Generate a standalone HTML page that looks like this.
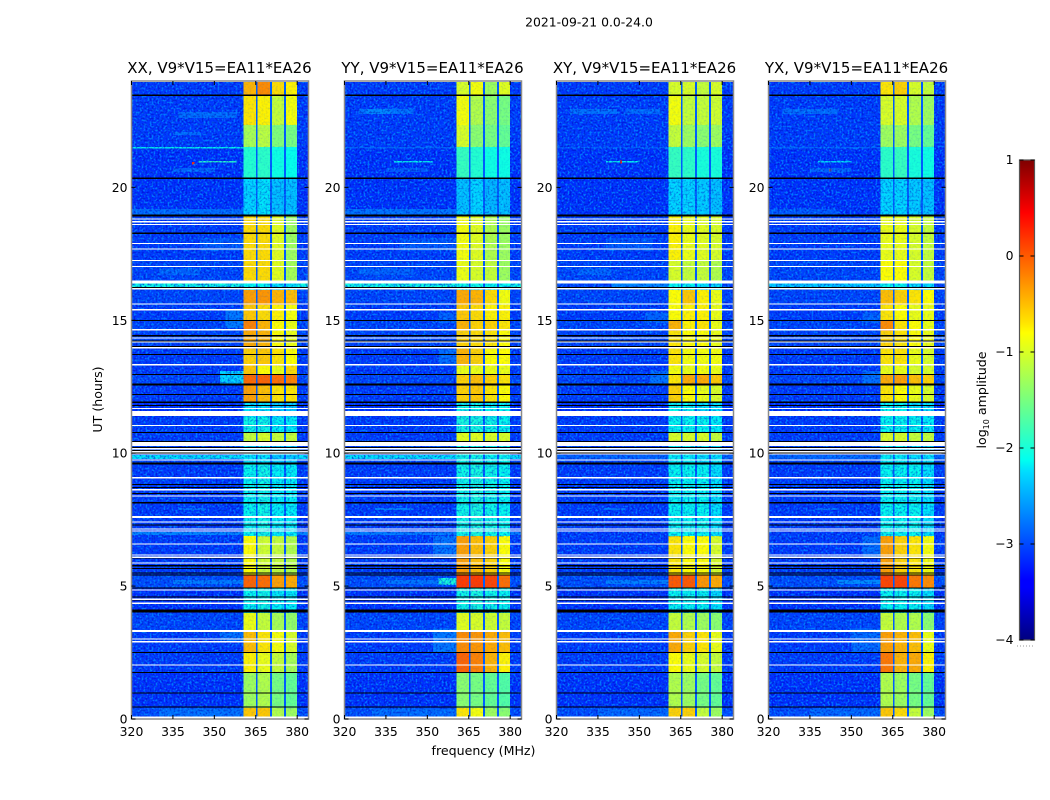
<!DOCTYPE html>
<html lang="en">
<head>
<meta charset="utf-8">
<title>2021-09-21 0.0-24.0</title>
<style>
html,body{margin:0;padding:0;background:#fff;width:1050px;height:800px;overflow:hidden}
svg{display:block}
text{font-family:"DejaVu Sans","Liberation Sans",sans-serif;fill:#000}
.tick{font-size:12.4px}
.ttl{font-size:15px}
.lab{font-size:12.6px}
</style>
</head>
<body>
<svg id="fig" width="1050" height="800" viewBox="0 0 1050 800" xmlns="http://www.w3.org/2000/svg">
<defs>
<filter id="speckLight" x="0" y="0" width="100%" height="100%" color-interpolation-filters="sRGB">
<feTurbulence type="fractalNoise" baseFrequency="0.5" numOctaves="1" seed="3"/>
<feColorMatrix type="matrix" values="0 0 0 0 0  0 0 0 0 0.55  0 0 0 0 1  4.5 0 0 0 -2.1"/>
</filter>
<filter id="speckDark" x="0" y="0" width="100%" height="100%" color-interpolation-filters="sRGB">
<feTurbulence type="fractalNoise" baseFrequency="0.5" numOctaves="1" seed="11"/>
<feColorMatrix type="matrix" values="0 0 0 0 0  0 0 0 0 0  0 0 0 0 0.7  4.5 0 0 0 -2.1"/>
</filter>
<linearGradient id="cbarGradient" x1="0" y1="1" x2="0" y2="0"></linearGradient>
</defs>
<text x="589" y="26.5" text-anchor="middle" style="font-size:12.4px">2021-09-21 0.0-24.0</text>
<text x="483.5" y="755" text-anchor="middle" class="lab">frequency (MHz)</text>
<text transform="translate(102 399.5) rotate(-90)" text-anchor="middle" class="lab">UT (hours)</text>
<g id="panels"></g>
<g id="cbar"></g>
<text transform="translate(986 400) rotate(-90)" text-anchor="middle" class="lab">log<tspan dy="3" style="font-size:8px">10</tspan><tspan dy="-3"> amplitude</tspan></text>
</svg>
<script>
const panelTitles = ["XX, V9*V15=EA11*EA26", "YY, V9*V15=EA11*EA26", "XY, V9*V15=EA11*EA26", "YX, V9*V15=EA11*EA26"];
const freqTicks = [320, 335, 350, 365, 380];
const hourTicks = [0, 5, 10, 15, 20];
const colorbarTicks = [-4, -3, -2, -1, 0, 1];

// Hour at the top of each time segment, plus the closing 0
const segmentTopHours = [24, 23.44, 22.35, 21.52, 20.32, 18.92, 17.27, 16.48, 16.14, 15.58, 15.01, 14.60, 13.92, 13.28, 12.94, 12.57, 11.89, 11.36, 10.76, 10.42, 9.59, 6.88, 5.42, 4.93, 3.99, 3.27, 2.48, 1.73, 0.41, 0];
// Background log10 amplitude per segment
const backgroundLevels = [-3.1, -3.1, -3.1, -3.15, -3.15, -3.1, -3.05, -3.05, -3.05, -3.1, -3.05, -3.05, -3.1, -3.1, -3.05, -3.1, -3.15, -3.1, -3.1, -3.05, -3.1, -3.1, -3, -3.15, -3.05, -3.1, -3.1, -3.15, -3];
// Log10 amplitude of the four sub-bands, per segment
const bandLevelsXX = [[-.45,-.25,-.65,-.75],[-.7,-.75,-1.1,-.85],[-1.25,-1.15,-1.45,-1.5],[-1.95,-1.9,-2.05,-2.1],[-2.25,-2.2,-2.35,-2.35],[-.65,-.65,-.95,-1.3],[-.65,-.65,-.95,-1.25],[-2.1,-2.1,-2.2,-2.2],[-.35,-.3,-.45,-.5],[-.55,-.65,-.75,-.85],[-.2,-.45,-.8,-.9],[-.4,-.45,-.8,-.9],[-.6,-.55,-.7,-.8],[-.55,-.8,-.9,-.65],[-.08,-.05,-.1,-.2],[-.35,-.5,-.7,-.7],[-2.2,-2.2,-2.3,-2.3],[-2.05,-2.05,-2.15,-2.15],[-1.1,-1,-1.1,-1.1],[-2.2,-2.2,-2.3,-2.3],[-2.1,-2.05,-2.15,-2.15],[-.8,-1.05,-1.1,-1.2],[-.05,-.1,-.35,-.4],[-2.1,-2.05,-2.15,-2.15],[-.9,-1.1,-1.25,-1.35],[-.5,-.7,-.85,-1],[-.75,-.9,-1.1,-1.25],[-1.3,-1.2,-1.5,-1.6],[-.55,-.55,-1.2,-1.3]];
const bandLevelsYY = [[-1,-.85,-1.3,-.95],[-.85,-1.2,-1.4,-1.5],[-1,-1.4,-1.5,-1.6],[-1.85,-1.95,-2.05,-2.05],[-2.35,-2.25,-2.4,-2.35],[-.85,-.95,-1.2,-1.3],[-.9,-1,-1.1,-1.3],[-2.05,-2.05,-2.1,-2.1],[-.4,-.45,-.65,-.85],[-.55,-.65,-.75,-.75],[-.45,-.6,-.6,-.7],[-.6,-.65,-.7,-.8],[-.45,-.6,-.8,-.8],[-.9,-.9,-.9,-.9],[-.6,-.5,-.6,-.7],[-.6,-.55,-.7,-.8],[-2.05,-2.05,-2.1,-2.1],[-2.01,-2.01,-2.05,-2.1],[-.95,-.95,-1,-1],[-2.05,-2.05,-2.1,-2.1],[-2.05,-2.01,-2.05,-2.1],[-.35,-.5,-.6,-.8],[.15,.15,.1,-.1],[-2.05,-2.01,-2.05,-2.1],[-.95,-1,-1.05,-1.1],[-.25,-.3,-.4,-.5],[-.05,-.2,-.45,-.75],[-1.4,-1.5,-1.6,-1.7],[-.7,-.85,-1.3,-1.4]];
const bandLevelsXY = [[-1,-1,-1.1,-1],[-.85,-1.1,-1.1,-1.05],[-1.1,-1.3,-1.4,-1.3],[-1.85,-1.9,-2,-2],[-2.25,-2.25,-2.3,-2.35],[-.75,-.9,-.95,-1],[-1,-1.1,-1.1,-1.2],[-2.1,-2.1,-2.2,-2.2],[-.8,-.55,-.75,-.9],[-.8,-.75,-.75,-.9],[-.45,-.75,-.7,-.9],[-.7,-.8,-.8,-.9],[-.7,-.85,-.85,-.85],[-.85,-.9,-.85,-.9],[-.7,-.4,-.4,-.55],[-.6,-.8,-.9,-1],[-2.1,-2.1,-2.2,-2.2],[-2.1,-2.1,-2.1,-2.15],[-1,-1,-1,-1.1],[-2.15,-2.15,-2.2,-2.2],[-2.1,-2.1,-2.1,-2.2],[-.7,-.8,-.8,-1],[0,0,-.3,-.4],[-2.1,-2.1,-2.1,-2.2],[-1.1,-1.2,-1.3,-1.4],[-.4,-.6,-.7,-.9],[-.8,-.9,-1,-1.1],[-1.2,-1.3,-1.5,-1.6],[-.6,-.6,-1.1,-1.3]];
const bandLevelsYX = [[-.7,-.6,-1,-1.1],[-1,-1,-1.2,-1.3],[-1.3,-1.3,-1.5,-1.6],[-1.9,-1.85,-2,-2.05],[-2.25,-2.25,-2.3,-2.35],[-.9,-.9,-1,-1.1],[-.8,-.8,-1,-1.1],[-2.1,-2.1,-2.2,-2.2],[-.5,-.6,-.7,-.8],[-.7,-.8,-.9,-.9],[-.25,-.7,-.8,-.9],[-.6,-.7,-.8,-.9],[-.7,-.7,-.9,-1],[-.9,-.9,-1,-1],[-.4,-.35,-.5,-.6],[-.7,-.8,-.9,-1],[-2.1,-2.1,-2.2,-2.2],[-2.1,-2.1,-2.1,-2.15],[-1,-1,-1.1,-1.1],[-2.15,-2.15,-2.2,-2.2],[-2.1,-2.1,-2.1,-2.2],[-.35,-.6,-.7,-.85],[.1,.1,-.15,-.25],[-2.1,-2.1,-2.1,-2.2],[-1.1,-1.2,-1.2,-1.4],[-.35,-.45,-.5,-.9],[-.15,-.45,-.4,-.75],[-1.2,-1.3,-1.5,-1.6],[-.55,-.65,-1.1,-1.3]];
const bandLevelsByPanel = [bandLevelsXX, bandLevelsYY, bandLevelsXY, bandLevelsYX];

// Sub-band limits in MHz
const bandStartMHz = [360.5, 365.7, 370.9, 376];
const bandEndMHz = [365, 370.2, 375.3, 380];
const bandGapLevel = -2.9;

// Weak emission and RFI: panel, hour top, hour bottom, MHz start, MHz end, level
const streaks = [
[0,19.19,18.96,320,360.5,-2.55],[1,19.19,18.96,320,360.5,-2.5],[3,19.19,18.96,320,345,-2.75],
[0,16.40,16.25,320,384,-2.05],[1,16.40,16.25,320,384,-2.05],[2,16.40,16.25,340,360.5,-2.4],[3,16.40,16.25,320,360.5,-2.3],
[0,9.93,9.78,320,384,-2.2],[1,9.93,9.78,320,384,-2.2],[2,9.93,9.78,320,384,-2.75],[3,9.93,9.78,320,384,-2.7],
[0,7.04,6.92,320,384,-2.35],[1,7.04,6.92,320,384,-2.45],
[0,22.84,22.61,337,358,-2.6],[1,22.95,22.75,325,345,-2.55],[2,22.95,22.75,325,342,-2.55],[2,22.95,22.75,345,358,-2.65],[3,22.95,22.75,325,345,-2.6],
[1,22.95,22.75,328,337,-2.55],
[0,22.08,21.97,335,345,-2.6],[0,21.52,21.47,320,360.5,-2.1],[1,21.52,21.47,320,360.5,-2.6],[2,21.52,21.47,320,360.5,-2.7],[3,21.52,21.47,320,360.5,-2.6],
[0,20.99,20.94,344,358,-1.9],[1,20.99,20.94,338,352,-2.1],[2,20.99,20.94,338,350,-2.1],[3,20.99,20.94,338,350,-2.2],
[2,21.03,20.90,343,343.8,.2],[3,20.7,20.6,342,342.8,.2],[0,20.95,20.86,342,342.8,.2],
[0,20.73,20.58,335,350,-2.65],[1,20.73,20.58,335,350,-2.75],[3,20.73,20.58,335,350,-2.65],
[0,18.1,17.6,345,360.5,-2.8],[1,18.1,17.6,340,360.5,-2.8],[2,18.1,17.6,338,355,-2.8],[0,16.95,16.7,330,345,-2.75],[1,16.95,16.7,325,345,-2.75],[2,16.95,16.7,328,340,-2.75],
[0,15.4,14.7,354,360.5,-2.5],[1,15.3,14.9,354,360.5,-2.7],[2,15.3,14.9,352,360.5,-2.7],[3,15.3,14.9,354,360.5,-2.7],
[0,13.1,12.6,352,360.5,-2.25],[1,13.9,13.3,354,360.5,-2.6],[2,13.1,12.6,354,360.5,-2.6],[3,13.1,12.6,354,360.5,-2.6],
[0,7.94,7.86,337,347,-2.55],[1,7.94,7.86,331,345,-2.4],[2,7.94,7.86,337,345,-2.55],[3,7.94,7.86,337,345,-2.55],
[1,6.88,6.1,352,360.5,-2.55],[3,6.88,6.1,354,360.5,-2.6],
[0,5.23,5.08,335,360.5,-2.55],[1,5.23,5.08,335,355,-2.6],[1,5.3,5.05,354,360.5,-2.0],[2,5.23,5.08,338,360.5,-2.5],[3,5.23,5.08,345,360.5,-2.35],
[0,3.27,2.9,352,360.5,-2.6],[1,3.4,2.5,352,360.5,-2.5],[3,3.4,2.5,350,360.5,-2.65],[0,0.4,0.1,330,360.5,-2.65],[1,0.4,0.1,330,360.5,-2.7],[2,0.4,0.1,335,360.5,-2.75],[3,0.4,0.1,335,360.5,-2.75]
];
// Flagged rows: centre hour, thickness in hours
const blackRows = [[23.46,.05],[20.34,.06],[18.94,.08],[18.27,.05],[16.23,.05],[14.99,.05],[14.42,.05],[14.22,.05],[14.01,.05],[13.71,.05],[12.96,.05],[12.58,.08],[12.21,.05],[11.91,.05],[11.79,.05],[10.78,.05],[10.44,.05],[10.21,.05],[10.10,.05],[10.01,.05],[9.61,.06],[8.82,.05],[8.71,.05],[8.48,.05],[8.13,.05],[7.30,.05],[6.06,.05],[5.76,.05],[5.66,.05],[5.49,.05],[5.42,.05],[4.93,.05],[4.59,.05],[4.48,.05],[4.06,.12],[2.50,.05],[1.75,.05],[0.98,.05],[0.45,.05]];
const whiteRows = [[23.98,.05],[18.81,.05],[18.70,.05],[18.60,.05],[17.89,.05],[17.68,.05],[17.25,.05],[17.02,.05],[16.44,.1],[16.18,.05],[15.61,.05],[15.39,.05],[14.64,.05],[14.33,.05],[14.18,.05],[13.96,.05],[13.32,.05],[11.68,.05],[11.49,.2],[11.04,.05],[10.35,.15],[10.16,.05],[10.05,.05],[9.97,.05],[9.74,.05],[9.07,.05],[8.62,.05],[8.39,.05],[7.60,.08],[7.41,.05],[7.15,.05],[7.07,.05],[6.58,.05],[6.17,.05],[6.09,.05],[5.87,.05],[4.85,.05],[4.51,.05],[4.36,.05],[3.31,.08],[3.01,.05],[2.90,.05],[2.03,.05],[0.05,.07]];

// Jet colormap stops: position, red, green, blue
const jetStops = [[0,0,0,127],[.11,0,0,255],[.125,0,0,255],[.35,0,220,255],[.375,0,255,240],[.64,255,255,0],[.66,255,230,0],[.89,255,0,0],[.91,232,0,0],[1,127,0,0]];
const levelMin = -4;
const levelMax = 1;

const SVG_NS = "http://www.w3.org/2000/svg";
const panelLefts = [131.5, 344.5, 556.5, 768.5];
const plotWidth = 177, plotTop = 81, plotHeight = 638;
const freqMin = 320, freqMax = 384.1, hourMax = 24;

function mk(tag, attrs, parent) {
  const el = document.createElementNS(SVG_NS, tag);
  for (const k in attrs) el.setAttribute(k, attrs[k]);
  parent.appendChild(el);
  return el;
}
function jet(level) {
  const t = Math.max(0, Math.min(1, (level - levelMin) / (levelMax - levelMin)));
  for (let i = 1; i < jetStops.length; i++) {
    if (t <= jetStops[i][0]) {
      const a = jetStops[i - 1], b = jetStops[i], u = (t - a[0]) / (b[0] - a[0]);
      return "rgb(" + [1, 2, 3].map(c => Math.round(a[c] + (b[c] - a[c]) * u)).join(",") + ")";
    }
  }
  return "rgb(127,0,0)";
}
const yOf = h => plotTop + (hourMax - h) / hourMax * plotHeight;

const panelsGroup = document.getElementById("panels");
panelTitles.forEach((title, p) => {
  const left = panelLefts[p];
  const xOf = f => left + (f - freqMin) / (freqMax - freqMin) * plotWidth;
  const g = mk("g", {}, panelsGroup);
  
  
  const cells = mk("g", {"shape-rendering": "crispEdges"}, g);
  
  
  function cell(f0, f1, h0, h1, level, host, alpha) {
    const r = mk("rect", {x: xOf(f0), y: yOf(h0), width: xOf(f1) - xOf(f0), height: yOf(h1) - yOf(h0), fill: jet(level), "fill-opacity": alpha === undefined ? 1 : alpha}, host || cells);
    
    
  }
  for (let s = 0; s < backgroundLevels.length; s++) {
    cell(freqMin, freqMax, segmentTopHours[s], segmentTopHours[s + 1], backgroundLevels[s]);
  }
  // diffuse emission blends softly into the background
  streaks.filter(v => v[0] === p).forEach(v => cell(v[3], v[4], v[1], v[2], v[5], cells, v[5] < -2.3 ? .55 : 1));
  // background speckle texture sits above the diffuse emission
  const x0 = xOf(bandStartMHz[0]), x1 = xOf(bandEndMHz[3]);
  [[left, x0 - left], [x1, left + plotWidth - x1]].forEach(a => {
    mk("rect", {x: a[0], y: plotTop, width: a[1], height: plotHeight, filter: "url(#speckLight)", opacity: .8}, g);
    mk("rect", {x: a[0], y: plotTop, width: a[1], height: plotHeight, filter: "url(#speckDark)", opacity: .42}, g);
  });
  const over = mk("g", {"shape-rendering": "crispEdges"}, g);
  
  
  for (let s = 0; s < backgroundLevels.length; s++) {
    const h0 = segmentTopHours[s], h1 = segmentTopHours[s + 1];
    cell(bandStartMHz[0], bandEndMHz[3], h0, h1, bandGapLevel, over);
    const bands = bandLevelsByPanel[p][s];
    bands.forEach((lv, b) => cell(bandStartMHz[b], bandEndMHz[b], h0, h1, lv, over));
    // weak segments carry much stronger speckle than bright ones
    const weak = bands[0] < -2;
    mk("rect", {x: x0, y: yOf(h0), width: x1 - x0, height: yOf(h1) - yOf(h0), filter: "url(#speckLight)", opacity: weak ? .45 : .1}, g);
    mk("rect", {x: x0, y: yOf(h0), width: x1 - x0, height: yOf(h1) - yOf(h0), filter: "url(#speckDark)", opacity: weak ? .3 : .06}, g);
  }
  // flagged rows
  const flags = mk("g", {"shape-rendering": "crispEdges"}, g);
  
  
  blackRows.forEach(r => mk("rect", {x: left, y: yOf(r[0] + r[1] / 2), width: plotWidth, height: r[1] / hourMax * plotHeight, fill: "#000"}, flags));
  whiteRows.forEach(r => mk("rect", {x: left, y: yOf(r[0] + r[1] / 2), width: plotWidth, height: r[1] / hourMax * plotHeight, fill: "#fff"}, flags));
  // frame
  const frame = mk("rect", {x: left, y: plotTop, width: plotWidth, height: plotHeight, fill: "none", stroke: "#8a8a8a", "stroke-width": 1.5}, g);
  
  
  // ticks
  freqTicks.forEach(f => {
    const x = xOf(f);
    mk("line", {x1: x, x2: x, y1: plotTop, y2: plotTop + 4, stroke: "#000"}, g);
    mk("line", {x1: x, x2: x, y1: plotTop + plotHeight, y2: plotTop + plotHeight - 4, stroke: "#000"}, g);
    const t = mk("text", {x: x, y: plotTop + plotHeight + 17, "text-anchor": "middle", "class": "tick"}, g);
    t.textContent = f;
    
    
  });
  hourTicks.forEach(h => {
    const y = yOf(h);
    mk("line", {x1: left, x2: left + 4, y1: y, y2: y, stroke: "#000"}, g);
    mk("line", {x1: left + plotWidth, x2: left + plotWidth - 4, y1: y, y2: y, stroke: "#000"}, g);
    const t = mk("text", {x: left - 4, y: y + 4.5, "text-anchor": "end", "class": "tick"}, g);
    t.textContent = h;
    
    
  });
  const tt = mk("text", {x: left + plotWidth / 2 + 0.5 - 1, y: plotTop - 8, "text-anchor": "middle", "class": "ttl"}, g);
  tt.textContent = title;
  
  
});

// colorbar
const grad = document.getElementById("cbarGradient");
jetStops.forEach(s => mk("stop", {offset: s[0], "stop-color": "rgb(" + s[1] + "," + s[2] + "," + s[3] + ")"}, grad));
const cbarGroup = document.getElementById("cbar");
const cbX = 1019.5, cbW = 15, cbTop = 160, cbH = 480;
const cbY = v => cbTop + (levelMax - v) / (levelMax - levelMin) * cbH;
const cbRect = mk("rect", {x: cbX, y: cbTop, width: cbW, height: cbH, fill: "url(#cbarGradient)", stroke: "#555", "stroke-width": 1.2}, cbarGroup);


colorbarTicks.forEach(v => {
  const y = cbY(v);
  mk("line", {x1: cbX, x2: cbX + 4, y1: y, y2: y, stroke: "#000"}, cbarGroup);
  mk("line", {x1: cbX + cbW, x2: cbX + cbW - 4, y1: y, y2: y, stroke: "#000"}, cbarGroup);
  const t = mk("text", {x: cbX - 6, y: y + 4, "text-anchor": "end", "class": "tick"}, cbarGroup);
  t.textContent = v < 0 ? "\u2212" + Math.abs(v) : v;
  
  
});
mk("line", {x1: 1017, x2: 1035, y1: 646, y2: 646, stroke: "#999", "stroke-width": 1, "stroke-dasharray": "1 2"}, cbarGroup);
</script>
</body>
</html>
